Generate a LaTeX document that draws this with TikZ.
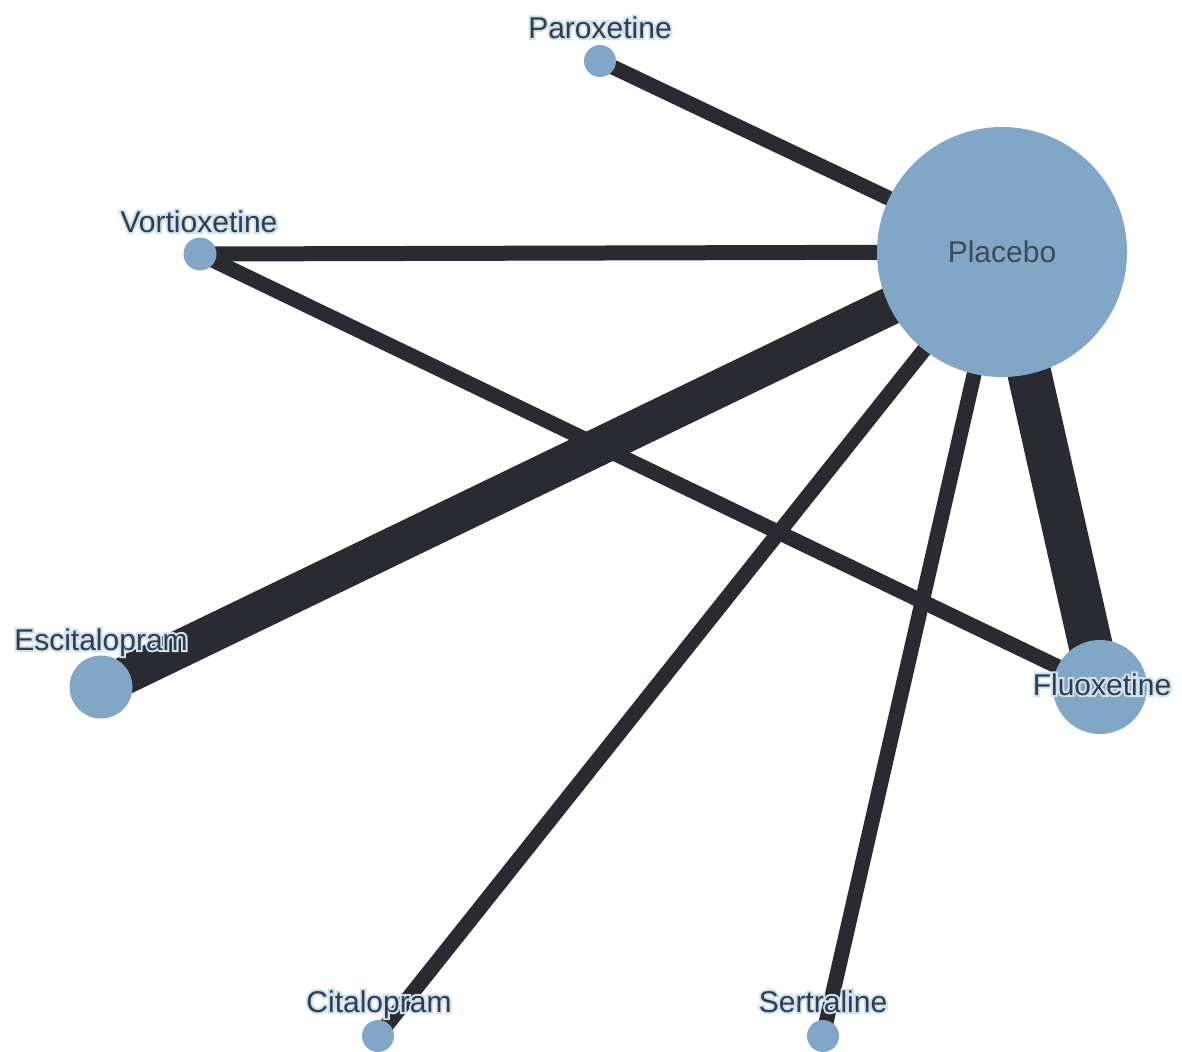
\documentclass[tikz,border=0pt]{standalone}
\usepackage{fontspec}
\setmainfont{Liberation Sans}

\definecolor{nodefill}{HTML}{82A6C5}
\definecolor{edgeink}{HTML}{2A2A33}
\definecolor{labelink}{HTML}{2E3D50}
\definecolor{centerink}{HTML}{3F4A56}

% light outline behind a label: a stroked copy of the glyphs, then the filled text
\newcommand\halotext[1]{%
  \leavevmode\rlap{\special{pdf:literal direct q 1 Tr 2 w 0.82 0.88 0.93 RG}#1\special{pdf:literal direct Q}}#1}

\pgfdeclarelayer{edges}
\pgfsetlayers{edges,main}

\tikzset{
  drug/.style={circle, fill=nodefill, draw=none, inner sep=0pt},
  link/.style={draw=edgeink, line cap=butt},
  thin/.style={link, line width=7.5pt},
  lbl/.style={anchor=base, inner sep=0pt, text=labelink,
              font=\fontsize{15}{18}\selectfont},
}

\begin{document}
\begin{tikzpicture}[x=0.5pt, y=-0.5pt]
\useasboundingbox (0,0) rectangle (1182,1051);

% treatment nodes (diameter in pt = radius in px)
\node[drug, minimum size=125pt, text=centerink,
      font=\fontsize{15}{18}\selectfont] (placebo) at (1002,252) {Placebo};
\node[drug, minimum size=16pt] (parox)  at (600,61)   {};
\node[drug, minimum size=16.5pt] (vortio) at (200,254) {};
\node[drug, minimum size=31.5pt] (escit) at (101,687) {};
\node[drug, minimum size=47pt] (fluox)  at (1100,687) {};
\node[drug, minimum size=16pt] (cital)  at (378,1036) {};
\node[drug, minimum size=16pt] (sertr)  at (823,1036) {};

% comparisons
\begin{pgfonlayer}{edges}
  \draw[thin] (parox.center) -- (placebo.center);
  \draw[thin] (vortio.center) -- (placebo.center);
  \draw[thin] (vortio.center) -- (fluox.center);
  \draw[link, line width=19pt] (escit.center) -- (placebo.center);
  \draw[link, line width=22pt] (fluox.center) -- (placebo.center);
  \draw[thin] (cital.center) -- (placebo.center);
  \draw[thin] (sertr.center) -- (placebo.center);
\end{pgfonlayer}

% labels
\node[lbl] (parox-lbl)  at (600,38)   {\halotext{Paroxetine}};
\node[lbl] (vortio-lbl) at (199,232)  {\halotext{Vortioxetine}};
\node[lbl] (escit-lbl)  at (101,650)  {\halotext{Escitalopram}};
\node[lbl] (fluox-lbl)  at (1102,695) {\halotext{Fluoxetine}};
\node[lbl] (cital-lbl)  at (379,1012) {\halotext{Citalopram}};
\node[lbl] (sertr-lbl)  at (823,1012) {\halotext{Sertraline}};
\end{tikzpicture}
\end{document}
